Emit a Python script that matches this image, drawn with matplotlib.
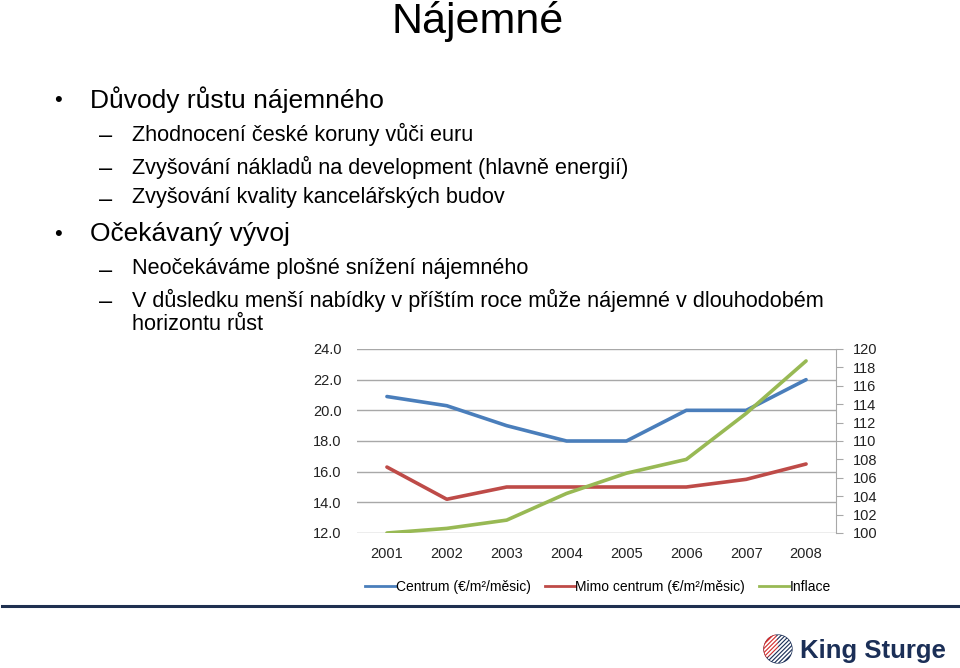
import matplotlib
matplotlib.use("Agg")
import matplotlib.pyplot as plt
from matplotlib.lines import Line2D
from matplotlib.patches import Circle, Wedge
import numpy as np

plt.rcParams['font.family'] = ['Liberation Sans', 'DejaVu Sans']

# data
roky = ['2001', '2002', '2003', '2004', '2005', '2006', '2007', '2008']
centrum = [20.9, 20.3, 19.0, 18.0, 18.0, 20.0, 20.0, 22.0]
mimo_centrum = [16.3, 14.2, 15.0, 15.0, 15.0, 15.0, 15.5, 16.5]
inflace = [100.0, 100.5, 101.4, 104.3, 106.5, 108.0, 113.0, 118.7]

nazvy = ['Centrum (€/m²/měsic)', 'Mimo centrum (€/m²/měsic)', 'Inflace']
barvy = ['#4A7EBB', '#BE4B48', '#98B954']

# (uroven, text) - uroven 2 = pokracovani radku bez odrazky
odrazky = [
    (0, 'Důvody růstu nájemného'),
    (1, 'Zhodnocení české koruny vůči euru'),
    (1, 'Zvyšování nákladů na development (hlavně energií)'),
    (1, 'Zvyšování kvality kancelářských budov'),
    (0, 'Očekávaný vývoj'),
    (1, 'Neočekáváme plošné snížení nájemného'),
    (1, 'V důsledku menší nabídky v příštím roce může nájemné v dlouhodobém'),
    (2, 'horizontu růst'),
]

W, H = 960, 668
fig = plt.figure(figsize=(W / 100, H / 100), dpi=100)


def fy(py):
    return 1 - py / H


def fx(px):
    return px / W


# title
fig.text(fx(478), fy(21), 'Nájemné', fontsize=31, ha='center', va='center')

# bullet list
radky_y = [100, 134, 167, 198, 234, 269, 300, 325]
for (uroven, text), py in zip(odrazky, radky_y):
    if uroven == 0:
        fig.text(fx(58), fy(py), '•', fontsize=16, ha='center', va='center')
        fig.text(fx(90), fy(py), text, fontsize=19, ha='left', va='center')
    else:
        if uroven == 1:
            fig.text(fx(106), fy(py + 2), '–', fontsize=17, ha='center', va='center')
        fig.text(fx(132), fy(py), text, fontsize=15.6, ha='left', va='center')

# chart
ax = fig.add_axes([fx(357), fy(533), fx(836) - fx(357), (533 - 349) / H])
x = np.arange(len(roky))
ax.plot(x, centrum, color=barvy[0], lw=2.6, solid_capstyle='round')
ax.plot(x, mimo_centrum, color=barvy[1], lw=2.6, solid_capstyle='round')
ax.set_xlim(-0.5, len(roky) - 0.5)
ax.set_ylim(12, 24)
ax.set_yticks(np.arange(12, 24.1, 2))
ax.set_yticklabels([f'{v:.1f}' for v in np.arange(12, 24.1, 2)])
ax.set_xticks(x)
ax.set_xticklabels(roky)
ax.grid(axis='y', color='#A8A8A8', lw=1)
ax.set_axisbelow(True)
for s in ax.spines.values():
    s.set_visible(False)
ax.tick_params(axis='y', length=0, pad=11, labelsize=10.5, colors='#222222')
ax.tick_params(axis='x', length=0, pad=10, labelsize=10.5, colors='#222222')

ax2 = ax.twinx()
ax2.plot(x, inflace, color=barvy[2], lw=2.6, solid_capstyle='round')
ax2.set_ylim(100, 120)
ax2.set_yticks(np.arange(100, 121, 2))
for s in ['top', 'left', 'bottom']:
    ax2.spines[s].set_visible(False)
ax2.spines['right'].set_color('#A8A8A8')
ax2.tick_params(axis='y', length=5, color='#A8A8A8', pad=7, labelsize=10.5,
                labelcolor='#222222')

# legend
handles = [Line2D([], [], color=c, lw=2) for c in barvy]
fig.legend(handles, nazvy, loc='center', bbox_to_anchor=(fx(598), fy(587)),
           ncol=3, frameon=False, fontsize=10, handlelength=2.2,
           handletextpad=0.0, columnspacing=1.0)

# bottom rule
fig.add_artist(Line2D([fx(2), fx(958)], [fy(606), fy(606)], color='#1F3050', lw=2.2))

# logo
logo_ax = fig.add_axes([fx(762), fy(666), 32 / W, 34 / H])
logo_ax.set_xlim(-1.15, 1.15)
logo_ax.set_ylim(-1.15, 1.15)
logo_ax.set_aspect('equal')
logo_ax.axis('off')
kruh = Circle((0, 0), 1, color='#1B2F57')
logo_ax.add_patch(kruh)
logo_ax.add_patch(Wedge((0, 0), 1, 100, 215, color='#D42E2E'))
for t in np.linspace(-1.2, 1.2, 9):
    ln, = logo_ax.plot([t - 1.5, t + 1.5], [-1.5, 1.5], color='white', lw=1.3)
    ln.set_clip_path(kruh)
fig.text(fx(800), fy(651), 'King Sturge', fontsize=18.5, fontweight='bold',
         color='#1B2F57', ha='left', va='center')

fig.savefig('out.png', dpi=100)
